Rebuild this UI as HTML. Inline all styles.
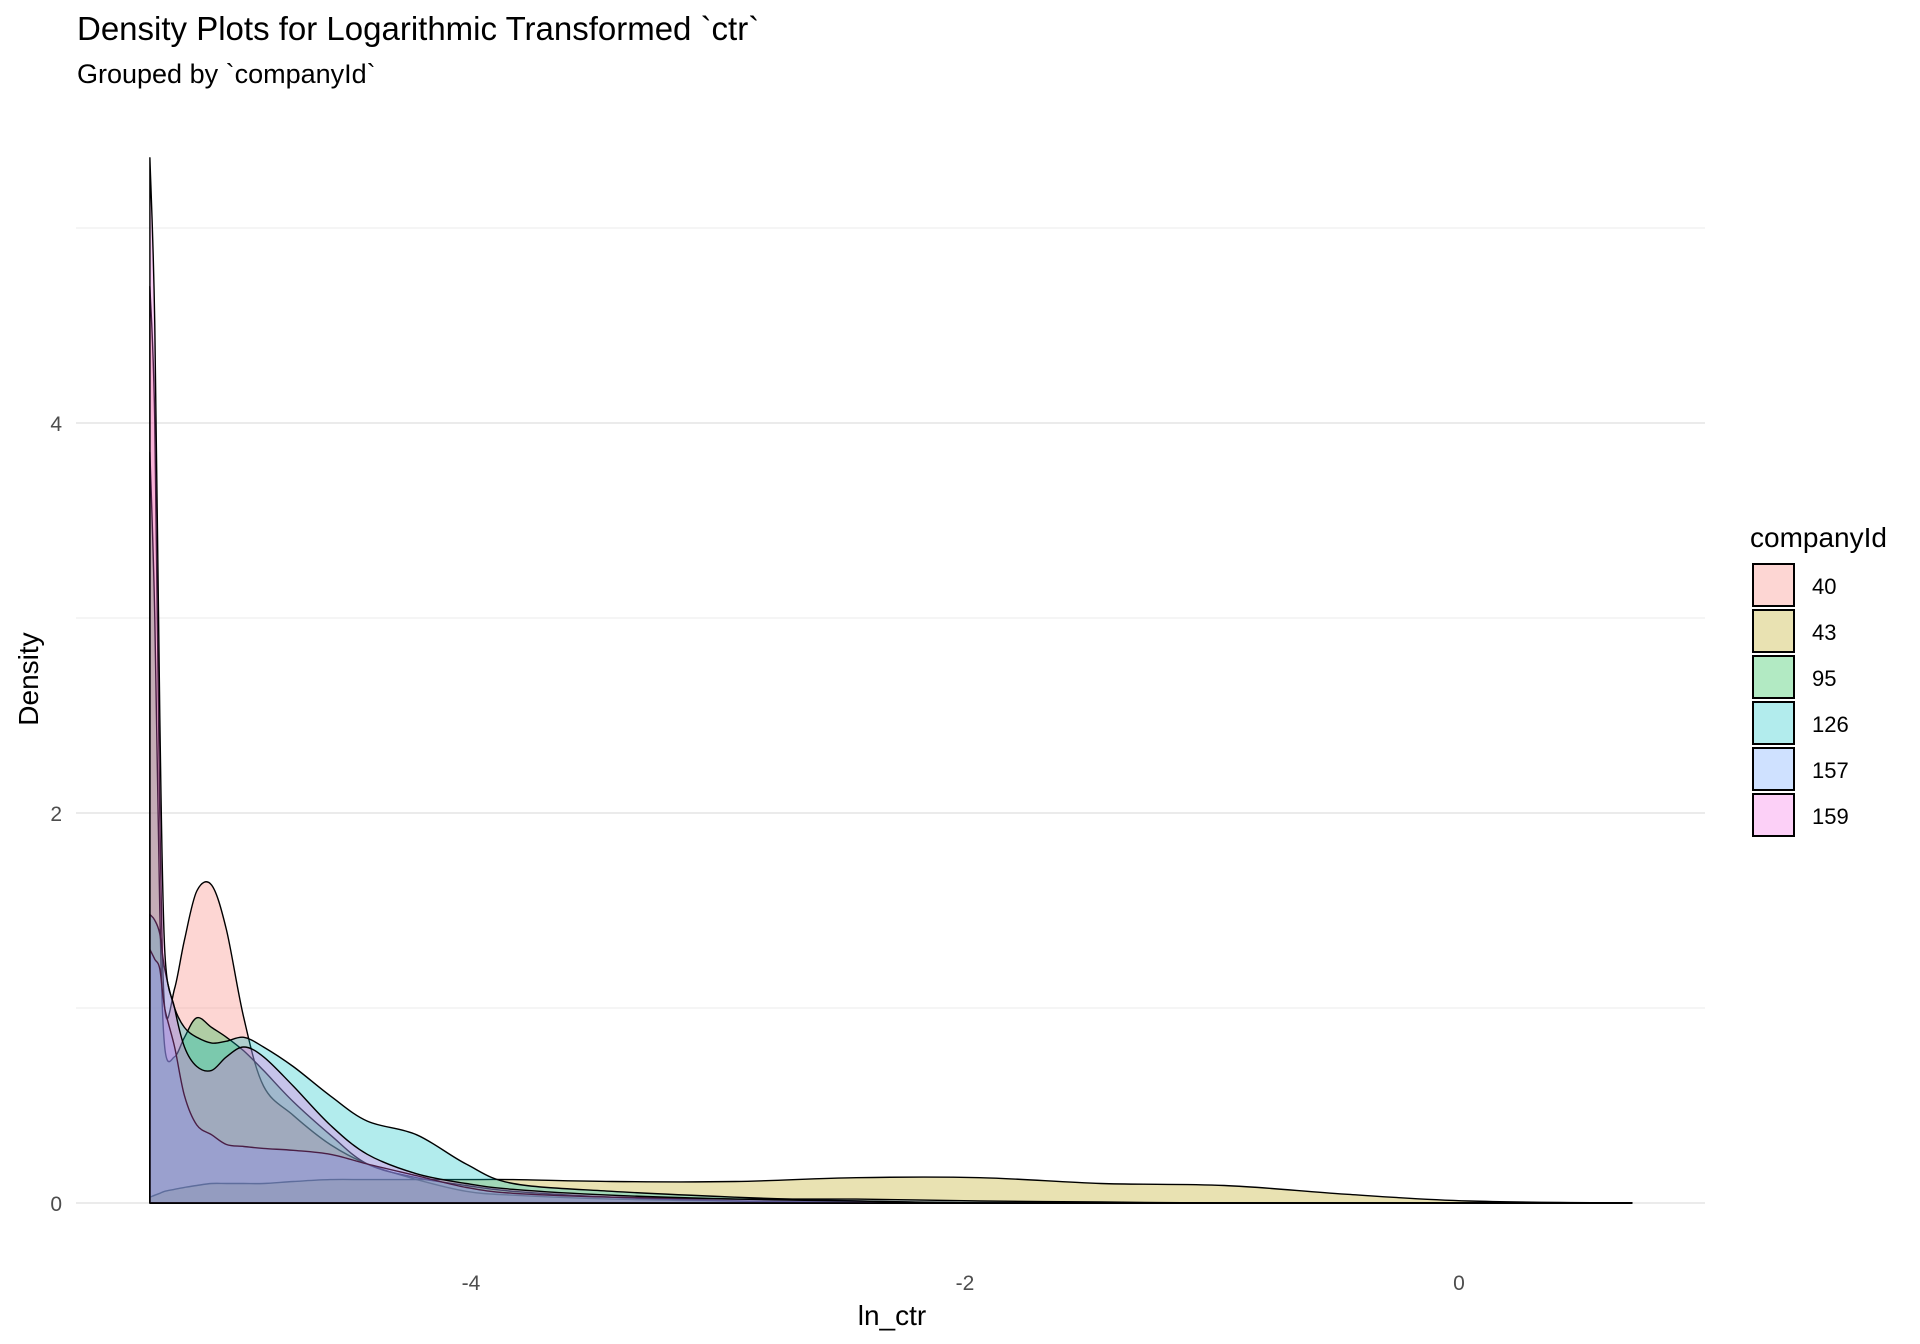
<!DOCTYPE html>
<html><head><meta charset="utf-8"><style>
body{margin:0;background:#fff;}
svg{display:block;font-family:"Liberation Sans",Arial,sans-serif;}
</style></head><body>
<svg id="chart" width="1920" height="1344">
<text x="77" y="40" font-size="33" fill="#000">Density Plots for Logarithmic Transformed `ctr`</text>
<text x="77" y="83" font-size="27" fill="#000">Grouped by `companyId`</text>
<g id="grid"></g>
<g id="series"></g>
<g id="ticks"></g>
<text x="892" y="1325" font-size="28" text-anchor="middle" fill="#000">ln_ctr</text>
<text transform="translate(38,679) rotate(-90)" font-size="28" text-anchor="middle" fill="#000">Density</text>
<g id="legend">
<text x="1750" y="547" font-size="28" fill="#000">companyId</text>
</g>
</svg>
<script>
const groups = ["40","43","95","126","157","159"];
const colors = ["#F8766D","#B79F00","#00BA38","#00BFC4","#619CFF","#F564E3"];
const xGrid = [-5.30,-5.28,-5.26,-5.24,-5.20,-5.16,-5.11,-5.05,-4.99,-4.92,-4.84,-4.72,-4.57,-4.42,-4.22,-4.02,-3.83,-3.43,-2.93,-2.44,-1.94,-1.45,-0.95,-0.46,0.04,0.70];
const d40  = [4.7,4.0,2.0,1.0,1.1,1.35,1.6,1.63,1.4,0.95,0.6,0.45,0.3,0.2,0.12,0.06,0.04,0.02,0.01,0.005,0,0,0,0,0,0];
const d43  = [0.03,0.04,0.05,0.06,0.07,0.08,0.09,0.10,0.10,0.10,0.10,0.11,0.12,0.12,0.12,0.12,0.12,0.11,0.11,0.13,0.13,0.10,0.09,0.045,0.01,0];
const d95  = [3.85,3.0,1.5,0.8,0.75,0.85,0.95,0.9,0.85,0.78,0.68,0.52,0.35,0.2,0.13,0.09,0.06,0.03,0.01,0.005,0,0,0,0,0,0];
const d126 = [1.48,1.45,1.38,1.2,1.0,0.9,0.85,0.82,0.83,0.85,0.8,0.7,0.55,0.42,0.35,0.2,0.1,0.06,0.03,0.01,0,0,0,0,0,0];
const d157 = [1.3,1.25,1.2,1.0,0.8,0.55,0.4,0.35,0.3,0.29,0.28,0.27,0.25,0.2,0.14,0.08,0.05,0.03,0.02,0.02,0.01,0.005,0,0,0,0];
const d159 = [5.36,4.5,2.5,1.3,1.0,0.8,0.7,0.68,0.75,0.8,0.75,0.6,0.4,0.25,0.15,0.1,0.07,0.04,0.02,0.01,0,0,0,0,0,0];
const xTicks = [-4,-2,0];
const yTicks = [0,2,4];
const yMinor = [1,3,5];

const NS="http://www.w3.org/2000/svg";
const X = v => 1459 + v*247;
const Y = v => 1203 - v*195;
const L = 76, R = 1705;
function mk(tag, attrs, parent){const e=document.createElementNS(NS,tag);for(const k in attrs)e.setAttribute(k,attrs[k]);parent.appendChild(e);return e;}
const grid=document.getElementById('grid'), ticks=document.getElementById('ticks'), ser=document.getElementById('series'), leg=document.getElementById('legend');
yMinor.forEach(v=>{
  const l=mk('line',{x1:L,x2:R,y1:Y(v),y2:Y(v),stroke:'#ebebeb','stroke-width':1},grid);
  
  
});
yTicks.forEach(v=>{
  const l=mk('line',{x1:L,x2:R,y1:Y(v),y2:Y(v),stroke:'#ebebeb','stroke-width':2},grid);
  
  
  const t=mk('text',{x:62,y:Y(v)+8,'font-size':21,'text-anchor':'end',fill:'#4d4d4d'},ticks);
  t.textContent=v;
  
  
});
xTicks.forEach(v=>{
  const t=mk('text',{x:X(v),y:1290,'font-size':21,'text-anchor':'middle',fill:'#4d4d4d'},ticks);
  t.textContent=v;
  
  
});
function smooth(pts){
  let s='';
  for(let i=0;i<pts.length-1;i++){
    const p0=pts[Math.max(0,i-1)],p1=pts[i],p2=pts[i+1],p3=pts[Math.min(pts.length-1,i+2)];
    const c1x=p1[0]+(p2[0]-p0[0])/6, c1y=Math.min(Y(0),p1[1]+(p2[1]-p0[1])/6);
    const c2x=p2[0]-(p3[0]-p1[0])/6, c2y=Math.min(Y(0),p2[1]-(p3[1]-p1[1])/6);
    s+=' C'+c1x.toFixed(1)+','+c1y.toFixed(1)+' '+c2x.toFixed(1)+','+c2y.toFixed(1)+' '+p2[0].toFixed(1)+','+p2[1].toFixed(1);
  }
  return s;
}
const dens=[d40,d43,d95,d126,d157,d159];
dens.forEach((d,i)=>{
  const pts=d.map((v,j)=>[X(xGrid[j]),Y(v)]);
  let p='M'+X(xGrid[0])+','+Y(0)+' L'+pts[0][0]+','+pts[0][1].toFixed(1)+smooth(pts);
  p+=' L'+X(xGrid[xGrid.length-1])+','+Y(0)+' Z';
  const e=mk('path',{d:p,fill:colors[i],'fill-opacity':0.3,stroke:'#000','stroke-width':1.4,'stroke-linejoin':'round'},ser);
  
  
  const ky=564+i*46;
  const r=mk('rect',{x:1753,y:ky,width:41,height:42,fill:colors[i],'fill-opacity':0.3,stroke:'#000','stroke-width':2},leg);
  
  
  const t=mk('text',{x:1812,y:ky+30,'font-size':22,fill:'#000'},leg);
  t.textContent=groups[i];
  
  
});
</script>
</body></html>
